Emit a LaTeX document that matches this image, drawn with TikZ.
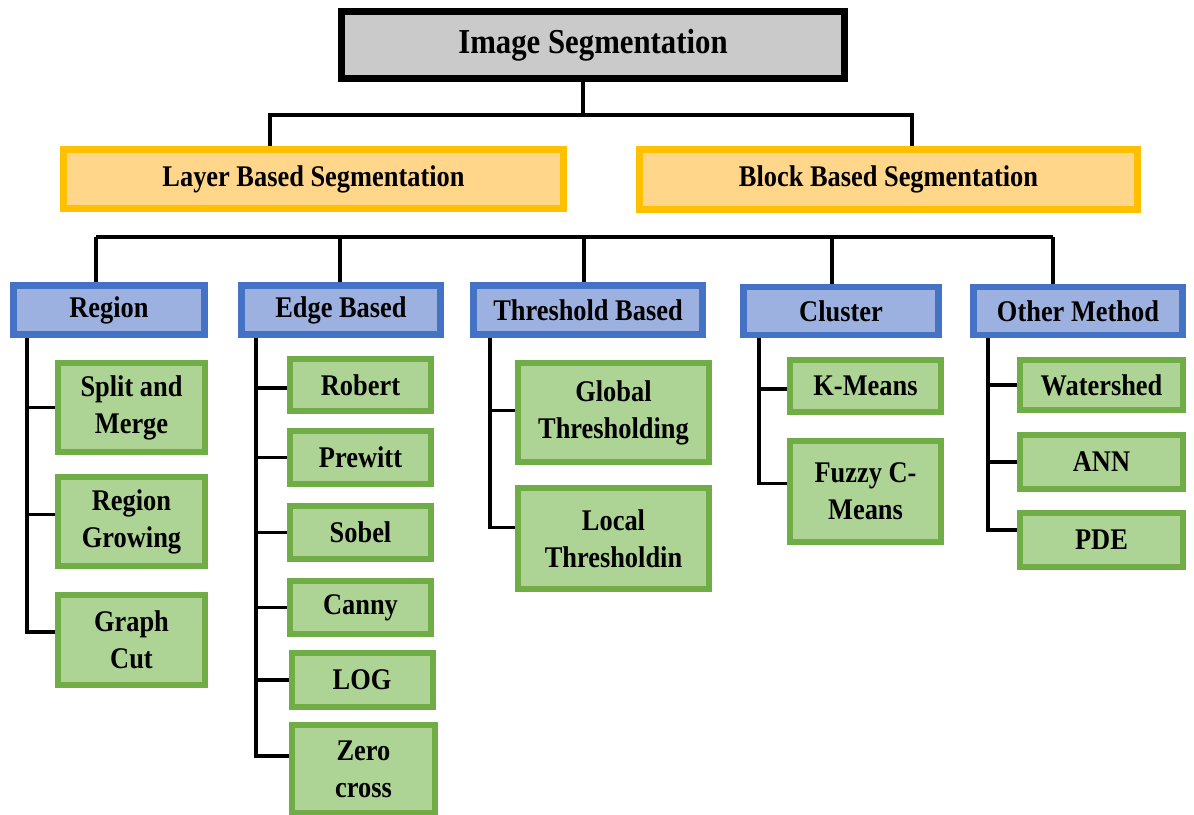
\documentclass[tikz,border=0pt]{standalone}
\usepackage{fontspec}
\newfontfamily\lbl{Liberation Serif}[FakeStretch=0.88]
\definecolor{gfill}{HTML}{AED495}
\definecolor{gline}{HTML}{70AD47}
\definecolor{bfill}{HTML}{9DB1E0}
\definecolor{bline}{HTML}{4472C4}
\definecolor{yfill}{HTML}{FFD68A}
\definecolor{yline}{HTML}{FFC000}
\definecolor{kfill}{HTML}{CACACA}
\tikzset{
  box/.style={rectangle, inner sep=0pt, align=center, font=\lbl\bfseries\fontsize{30}{37}\selectfont, text=black},
  topbox/.style={box, draw=black, line width=7pt, fill=kfill, font=\lbl\bfseries\fontsize{35}{40}\selectfont},
  ybox/.style={box, draw=yline, line width=6.5pt, fill=yfill},
  bbox/.style={box, draw=bline, line width=6.5pt, fill=bfill},
  gbox/.style={box, draw=gline, line width=6pt, fill=gfill},
  conn/.style={draw=black, line width=3.2pt}
}
\begin{document}
\begin{tikzpicture}[x=1pt,y=-1pt]
\useasboundingbox (0,0) rectangle (1194,814);
% level 0 and 1
\node[topbox, minimum width=503pt, minimum height=67pt] (top) at (593,45) {Image Segmentation};
\node[ybox, minimum width=500pt, minimum height=59pt] (layer) at (313.5,179) {Layer Based Segmentation};
\node[ybox, minimum width=498pt, minimum height=60pt] (block) at (888.5,179.5) {Block Based Segmentation};
% level 2
\node[bbox, minimum width=191pt, minimum height=49pt] (region) at (109,310) {Region};
\node[bbox, minimum width=199pt, minimum height=49pt] (edge) at (341,310) {Edge Based};
\node[bbox, minimum width=229pt, minimum height=49pt] (thresh) at (588,310) {Threshold Based};
\node[bbox, minimum width=195pt, minimum height=48pt] (cluster) at (841,311) {Cluster};
\node[bbox, minimum width=209pt, minimum height=48pt] (other) at (1078,311) {Other Method};
% level 3: region
\node[gbox, minimum width=147pt, minimum height=89pt] (split) at (131.5,407.5) {Split and\\Merge};
\node[gbox, minimum width=147pt, minimum height=89pt] (grow) at (131.5,521.5) {Region\\Growing};
\node[gbox, minimum width=147pt, minimum height=90pt] (graph) at (131.5,640) {Graph\\Cut};
% edge
\node[gbox, minimum width=141pt, minimum height=52pt] (robert) at (360.5,385) {Robert};
\node[gbox, minimum width=141pt, minimum height=53pt] (prewitt) at (360.5,457.5) {Prewitt};
\node[gbox, minimum width=141pt, minimum height=53pt] (sobel) at (360.5,532.5) {Sobel};
\node[gbox, minimum width=141pt, minimum height=53pt] (canny) at (360.5,607.5) {Canny};
\node[gbox, minimum width=141pt, minimum height=54pt] (log) at (362,680) {LOG};
\node[gbox, minimum width=143pt, minimum height=88pt] (zero) at (363.5,769) {Zero\\cross};
% threshold
\node[gbox, minimum width=191pt, minimum height=99pt] (global) at (613.5,412.5) {Global\\Thresholding};
\node[gbox, minimum width=191pt, minimum height=101pt] (local) at (613.5,538.5) {Local\\Thresholdin};
% cluster
\node[gbox, minimum width=151pt, minimum height=52pt] (kmeans) at (865.5,386) {K-Means};
\node[gbox, minimum width=151pt, minimum height=101pt] (fuzzy) at (865.5,491.5) {Fuzzy C-\\Means};
% other
\node[gbox, minimum width=163pt, minimum height=50pt] (water) at (1101.5,385) {Watershed};
\node[gbox, minimum width=163pt, minimum height=54pt] (ann) at (1101.5,462) {ANN};
\node[gbox, minimum width=163pt, minimum height=54pt] (pde) at (1101.5,540) {PDE};
% top connectors
\coordinate (tstem) at (583,115);
\coordinate (tl) at (270,115);
\coordinate (tr) at (912,115);
\draw[conn] (top.south -| tstem) -- (tstem);
\draw[conn] (layer.north -| tl) -- (tl) -- (tr) -- (block.north -| tr);
% level 2 bus
\coordinate (b1) at (96,237);
\coordinate (b2) at (340,237);
\coordinate (b3) at (584,237);
\coordinate (b4) at (832,237);
\coordinate (b5) at (1053,237);
\draw[conn] (b1) -- (b5);
\draw[conn] (b1) -- (region.north -| b1);
\draw[conn] (b2) -- (edge.north -| b2);
\draw[conn] (b3) -- (thresh.north -| b3);
\draw[conn] (b4) -- (cluster.north -| b4);
\draw[conn] (b5) -- (other.north -| b5);
% trunks
\coordinate (tR) at (27,338);
\coordinate (tE) at (256,338);
\coordinate (tT) at (490,338);
\coordinate (tC) at (759,338);
\coordinate (tO) at (988,338);
% region
\draw[conn] (region.south -| tR) |- ([yshift=8pt]graph.west);
\draw[conn] (split.west -| tR) -- (split.west);
\draw[conn] ([yshift=7pt]grow.west -| tR) -- ([yshift=7pt]grow.west);
% edge
\draw[conn] (edge.south -| tE) |- ([yshift=13pt]zero.west);
\draw[conn] ([yshift=-3pt]robert.west -| tE) -- ([yshift=-3pt]robert.west);
\draw[conn] (prewitt.west -| tE) -- (prewitt.west);
\draw[conn] (sobel.west -| tE) -- (sobel.west);
\draw[conn] (canny.west -| tE) -- (canny.west);
\draw[conn] (log.west -| tE) -- (log.west);
% threshold
\draw[conn] (thresh.south -| tT) |- ([yshift=11pt]local.west);
\draw[conn] ([yshift=2pt]global.west -| tT) -- ([yshift=2pt]global.west);
% cluster
\draw[conn] (cluster.south -| tC) |- ([yshift=8pt]fuzzy.west);
\draw[conn] ([yshift=-3pt]kmeans.west -| tC) -- ([yshift=-3pt]kmeans.west);
% other
\draw[conn] (other.south -| tO) |- ([yshift=10pt]pde.west);
\draw[conn] (water.west -| tO) -- (water.west);
\draw[conn] (ann.west -| tO) -- (ann.west);
\end{tikzpicture}
\end{document}
